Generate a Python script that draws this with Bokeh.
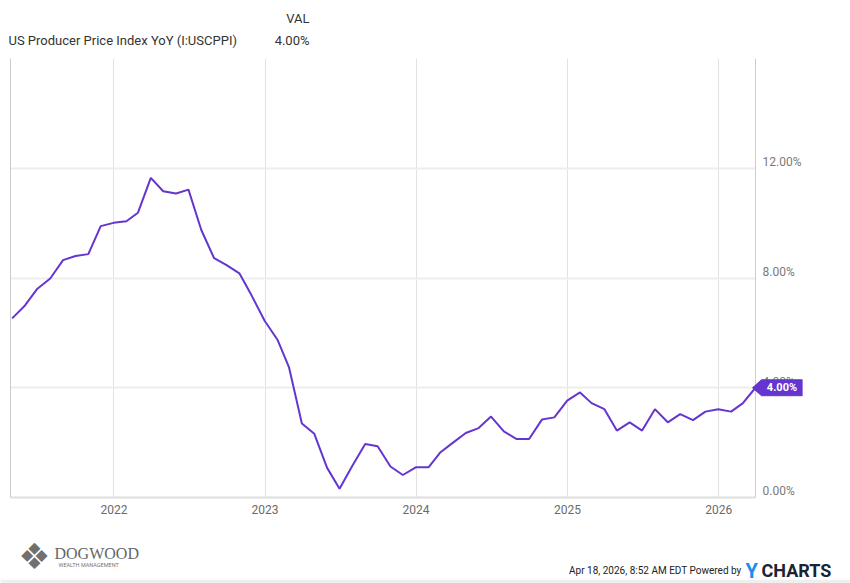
from datetime import datetime, timedelta
import pandas as pd
from bokeh.plotting import figure
from bokeh.layouts import column
from bokeh.core.properties import value
from bokeh.models import (Range1d, LinearAxis, DatetimeAxis, FixedTicker, DatetimeTickFormatter,
                          Grid, Label, PolyAnnotation)
from bokeh.embed import file_html
from bokeh.resources import INLINE

# ---------------- data ----------------
dates = pd.date_range("2021-04-30", periods=60, freq="ME")
ppi_yoy = [
    6.53, 7.00, 7.61, 7.98, 8.65, 8.80, 8.87, 9.89, 10.01,                    # 2021 Apr-Dec
    10.07, 10.38, 11.65, 11.16, 11.08, 11.22, 9.75, 8.72, 8.47, 8.17, 7.35, 6.44,  # 2022
    5.75, 4.74, 2.70, 2.32, 1.08, 0.32, 1.16, 1.95, 1.87, 1.13, 0.82, 1.10,   # 2023
    1.10, 1.65, 2.01, 2.35, 2.53, 2.95, 2.41, 2.13, 2.13, 2.84, 2.92, 3.53,   # 2024
    3.83, 3.44, 3.22, 2.44, 2.74, 2.44, 3.22, 2.74, 3.04, 2.82, 3.13, 3.22,   # 2025
    3.13, 3.43, 4.00,                                                          # 2026 Jan-Mar
]
y_ticks = [0, 4, 8, 12]
y_tick_labels = ["0.00%", "4.00%", "8.00%", "12.00%"]
x_tick_years = [2022, 2023, 2024, 2025, 2026]
series_name = "US Producer Price Index YoY (I:USCPPI)"
value_header = "VAL"
footer_text = "Apr 18, 2026, 8:52 AM EDT Powered by"
brand_name = "DOGWOOD"
brand_sub = "WEALTH MANAGEMENT"

LINE = "#6436cf"
FONT = "Roboto"
W = 850


def no_align(f):
    try:
        f.frame_align = False
    except AttributeError:
        pass


def text_figure(h, bottom_strip=0):
    f = figure(width=W, height=h, output_backend="svg", toolbar_location=None,
               x_range=Range1d(0, W), y_range=Range1d(bottom_strip, h),
               x_axis_location=None, y_axis_location=None, min_border=0,
               min_border_bottom=bottom_strip)
    f.grid.visible = False
    f.outline_line_color = None
    f.background_fill_color = "white"
    f.border_fill_color = "#efefef" if bottom_strip else "white"
    no_align(f)
    return f


def put(f, x, y, text, size="13px", font=FONT, color="#333333", align="left", style="normal"):
    f.text(x=[x], y=[y], text=[text], text_font=value(font), text_font_size=value(size),
           text_color=color, text_align=align, text_baseline="middle", text_font_style=style)


last = ppi_yoy[-1]

# ---------------- header ----------------
HH = 58
header = text_figure(HH)
put(header, 309, HH - 18, value_header, align="right")
put(header, 8, HH - 40, series_name)
put(header, 309, HH - 40, f"{last:.2f}%", align="right")

# ---------------- main chart ----------------
MH = 472
x_start = datetime(2021, 4, 26)
x_end = datetime(2026, 3, 31)
px_per_day = 745 / (x_end - x_start).days
RB = 48                       # right border (axis panel)
frame_right = W - RB          # page x of the frame's right edge
x_view_end = x_end + timedelta(days=(frame_right - 755) / px_per_day)

to_ms = lambda d: pd.Timestamp(d).value // 10**6
x_start_ms, x_end_ms = to_ms(x_start), to_ms(x_end)

p = figure(width=W, height=MH, output_backend="svg", toolbar_location=None,
           x_axis_location=None, y_axis_location=None,
           x_range=Range1d(x_start, x_view_end), y_range=Range1d(0, 16),
           min_border_left=10, min_border_right=RB, min_border_top=0, min_border_bottom=MH - 439)
p.center = [r for r in p.center if not isinstance(r, Grid)]
p.outline_line_color = None
p.background_fill_color = "white"
p.border_fill_color = "white"
no_align(p)

year_ticks = [to_ms(f"{y}-01-01") for y in x_tick_years]

p.add_layout(Grid(dimension=0, ticker=FixedTicker(ticks=year_ticks),
                  grid_line_color="#e2e2e2", grid_line_width=1))
hgrid = Grid(dimension=1, ticker=FixedTicker(ticks=y_ticks),
             grid_line_color="#ededed", grid_line_width=2)
try:
    hgrid.cross_bounds = (x_start_ms, x_end_ms)
    cross_ok = True
except AttributeError:
    cross_ok = False
p.add_layout(hgrid)
if not cross_ok:
    p.quad(left=[x_end], right=[x_view_end], bottom=[0], top=[16],
           fill_color="white", line_color=None)

xaxis = DatetimeAxis(ticker=FixedTicker(ticks=year_ticks),
                     formatter=DatetimeTickFormatter(years="%Y", months="%Y", days="%Y", hours="%Y"))
xaxis.bounds = (x_start_ms, x_end_ms)
xaxis.axis_line_color = "#dedede"
xaxis.axis_line_width = 2
xaxis.major_tick_line_color = None
xaxis.minor_tick_line_color = None
xaxis.major_tick_out = 0
xaxis.major_label_standoff = 7
xaxis.major_label_text_font = FONT
xaxis.major_label_text_font_size = "12px"
xaxis.major_label_text_color = "#6a6a6a"
p.add_layout(xaxis, "below")

leftaxis = LinearAxis(ticker=FixedTicker(ticks=[]), axis_line_color="#cccccc",
                      major_tick_line_color=None, minor_tick_line_color=None,
                      major_tick_out=0, major_label_standoff=0)
p.add_layout(leftaxis, "left")

# value axis: YCharts draws its labels slightly above the grid lines
label_lift = 0.22
lifted = [t + label_lift for t in y_ticks]
yaxis = LinearAxis(ticker=FixedTicker(ticks=lifted),
                   major_label_overrides={l: s for l, s in zip(lifted, y_tick_labels)},
                   fixed_location=x_end_ms)
yaxis.axis_line_color = "#cccccc"
yaxis.major_tick_line_color = None
yaxis.minor_tick_line_color = None
yaxis.major_tick_out = 0
yaxis.major_label_standoff = 7
yaxis.major_label_text_font = FONT
yaxis.major_label_text_font_size = "12px"
yaxis.major_label_text_color = "#7a7a7a"
p.add_layout(yaxis, "right")

line_r = p.line(dates, ppi_yoy, line_color=LINE, line_width=2)

# last value tag (inside the frame, which extends right of the value axis)
h = 0.29
tip = 752 - 10
p.add_layout(PolyAnnotation(xs=[tip, tip + 9, frame_right - 10, frame_right - 10, tip + 9], xs_units="screen",
                            ys=[last, last + h, last + h, last - h, last - h], ys_units="data",
                            fill_color=LINE, fill_alpha=1.0, line_color=LINE, line_alpha=1.0, line_width=1))
p.add_layout(Label(x=(tip + 9 + frame_right - 10) / 2, x_units="screen", y=last, y_units="data",
                   text=f"{last:.2f}%", text_color="white", text_font=FONT, text_font_style="bold",
                   text_font_size="11px", text_align="center", text_baseline="middle"))

# ---------------- footer ----------------
FH = 583 - HH - MH
footer = text_figure(FH, bottom_strip=4)
put(footer, 34, 583 - 556, "\u2756", size="36px", font="DejaVu Sans", color="#707070", align="center")
put(footer, 54, 583 - 553, brand_name, size="16px", font="Liberation Serif", color="#666666")
put(footer, 58, 583 - 564, brand_sub, size="5.5px", color="#777777")
put(footer, 741, 583 - 570, footer_text, size="10px", color="#222222", align="right")
put(footer, 745, 583 - 570, "Y", size="20px", color="#1a8cf0", style="bold")
put(footer, 761, 583 - 570, "CHARTS", size="18px", color="#1c2333", style="bold")

layout = column(header, p, footer, spacing=0)
open("out.html", "w").write(file_html(layout, INLINE))
